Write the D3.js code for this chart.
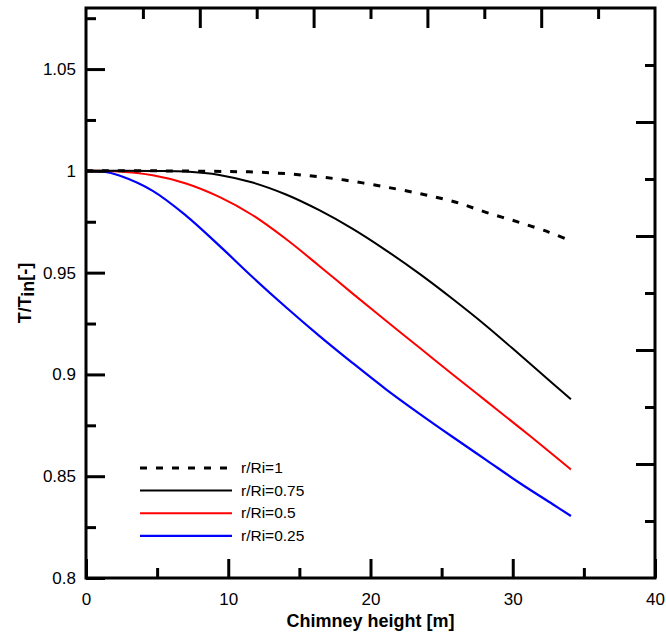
<!DOCTYPE html>
<html><head><meta charset="utf-8">
<script src="https://cdn.jsdelivr.net/npm/d3@7"></script>
<style>body{margin:0;background:#fff;}svg{display:block;}</style>
</head><body>
<svg id="c" width="666" height="634"></svg>
<script>
// ---- data ----
const seriesNames = ["r/Ri=1", "r/Ri=0.75", "r/Ri=0.5", "r/Ri=0.25"];
const xR1   = [0, 5.0, 9.84, 12.19, 14.53, 16.87, 19.45, 21.79, 23.90, 26.01, 28.12, 30.46, 32.57, 33.86];
const yR1   = [1, 1.0, 0.99967, 0.99934, 0.99836, 0.99672, 0.99409, 0.99113, 0.98818, 0.98457, 0.97964, 0.97471, 0.96979, 0.96617];
const xR075 = [0, 4.69, 7.03, 9.37, 11.72, 14.06, 16.40, 18.75, 21.09, 23.43, 25.78, 28.12, 30.46, 32.81, 34.09];
const yR075 = [1, 0.99995, 0.99967, 0.99800, 0.99424, 0.98839, 0.98067, 0.97150, 0.96097, 0.94950, 0.93704, 0.92394, 0.90990, 0.89556, 0.88775];
const xR05  = [0, 2.34, 4.69, 7.03, 9.37, 11.72, 14.06, 16.40, 18.75, 21.09, 23.43, 25.78, 28.12, 30.46, 32.81, 34.09];
const yR05  = [1, 0.99967, 0.99780, 0.99380, 0.98720, 0.97820, 0.96650, 0.95330, 0.93970, 0.92640, 0.91320, 0.90000, 0.88700, 0.87400, 0.86070, 0.85330];
const xR025 = [0, 1.17, 2.34, 4.69, 7.03, 9.37, 11.72, 14.06, 16.40, 18.75, 21.09, 23.43, 25.78, 28.12, 30.46, 32.81, 34.09];
const yR025 = [1, 0.99967, 0.99770, 0.99018, 0.97801, 0.96327, 0.94776, 0.93302, 0.91898, 0.90558, 0.89271, 0.88078, 0.86926, 0.85803, 0.84680, 0.83622, 0.83046];
const xTicks = [0, 10, 20, 30, 40];
const yTicks = [0.8, 0.85, 0.9, 0.95, 1, 1.05];
const yTickLabels = ["0.8", "0.85", "0.9", "0.95", "1", "1.05"];

// ---- layout ----
const L = 86, R = 655, T = 8, B = 578;
const svg = d3.select("#c");
const x = d3.scaleLinear().domain([0, 40]).range([L, R]);
const y = d3.scaleLinear().domain([0.8, 1.08]).range([B, T]);
const font = "Arial, 'Liberation Sans', sans-serif";

const series = [
  {name: seriesNames[0], xs: xR1,   ys: yR1,   color: "#000", dash: "7,9", w: 3},
  {name: seriesNames[1], xs: xR075, ys: yR075, color: "#000", dash: null, w: 2},
  {name: seriesNames[2], xs: xR05,  ys: yR05,  color: "#ff0000", dash: null, w: 2},
  {name: seriesNames[3], xs: xR025, ys: yR025, color: "#0000ff", dash: null, w: 2.2}
];

const line = d3.line().x(d => x(d[0])).y(d => y(d[1])).curve(d3.curveCatmullRom.alpha(0.5));
[3,2,1,0].forEach(i => {
  const s = series[i];
  const pts = s.xs.map((v, k) => [v, s.ys[k]]);
  svg.append("path").attr("d", line(pts)).attr("fill", "none")
    .attr("stroke", s.color).attr("stroke-width", s.w)
    .attr("stroke-dasharray", s.dash);
});

// ---- axes ----
const axW = 3;
function drawTicks(g) {
  g.selectAll(".domain").remove();
  g.selectAll("line").attr("stroke", "#000").attr("stroke-width", axW);
  g.selectAll("text").attr("font-family", font).attr("font-size", 17).attr("fill", "#000");
}
const xMinor = d3.range(5, 40, 10);
svg.append("g").attr("transform", `translate(0,${B})`)
  .call(d3.axisBottom(x).tickValues(xMinor).tickSize(-10).tickFormat(""))
  .call(drawTicks);
svg.append("g").attr("transform", `translate(0,${B})`)
  .call(d3.axisBottom(x).tickValues(xTicks).tickSize(-19).tickPadding(15).tickFormat(d3.format("d")))
  .call(drawTicks);
const yMinor = [0.825, 0.875, 0.925, 0.975, 1.025, 1.075];
svg.append("g").attr("transform", `translate(${L},0)`)
  .call(d3.axisLeft(y).tickValues(yMinor).tickSize(-10).tickFormat(""))
  .call(drawTicks);
svg.append("g").attr("transform", `translate(${L},0)`)
  .call(d3.axisLeft(y).tickValues(yTicks).tickSize(-19).tickPadding(10).tickFormat((d, i) => yTickLabels[i]))
  .call(drawTicks);
// top & right: 5 divisions with one minor tick between
const xt = d3.scaleLinear().domain([0, 5]).range([L, R]);
const yr = d3.scaleLinear().domain([0, 5]).range([B, T]);
svg.append("g").attr("transform", `translate(0,${T})`)
  .call(d3.axisTop(xt).tickValues([1,2,3,4]).tickSize(-20).tickFormat("")).call(drawTicks);
svg.append("g").attr("transform", `translate(0,${T})`)
  .call(d3.axisTop(xt).tickValues([0.5,1.5,2.5,3.5,4.5]).tickSize(-11).tickFormat("")).call(drawTicks);
svg.append("g").attr("transform", `translate(${R},0)`)
  .call(d3.axisRight(yr).tickValues([1,2,3,4]).tickSize(-19).tickFormat("")).call(drawTicks);
svg.append("g").attr("transform", `translate(${R},0)`)
  .call(d3.axisRight(yr).tickValues([0.5,1.5,2.5,3.5,4.5]).tickSize(-10).tickFormat("")).call(drawTicks);

svg.append("rect").attr("x", L).attr("y", T).attr("width", R - L).attr("height", B - T)
  .attr("fill", "none").attr("stroke", "#000").attr("stroke-width", axW);

// titles
svg.append("text").attr("x", (L + R) / 2).attr("y", 627).attr("text-anchor", "middle")
  .attr("font-family", font).attr("font-weight", "bold").attr("font-size", 18)
  .text("Chimney height [m]");
const yt = svg.append("text").attr("transform", `translate(31,${(T + B) / 2}) rotate(-90)`)
  .attr("text-anchor", "middle").attr("font-family", font).attr("font-weight", "bold").attr("font-size", 18);
yt.append("tspan").text("T/T");
yt.append("tspan").attr("dy", 3).text("in");
yt.append("tspan").attr("dy", -3).text("[-]");

// legend
const lg = svg.append("g");
series.forEach((s, i) => {
  const ly = 468 + i * 22.6;
  lg.append("line").attr("x1", 140).attr("x2", 232).attr("y1", ly).attr("y2", ly)
    .attr("stroke", s.color).attr("stroke-width", s.w).attr("stroke-dasharray", s.dash);
  lg.append("text").attr("x", 241).attr("y", ly + 5).attr("font-family", font)
    .attr("font-size", 15.5).text(s.name);
});
</script>
</body></html>
